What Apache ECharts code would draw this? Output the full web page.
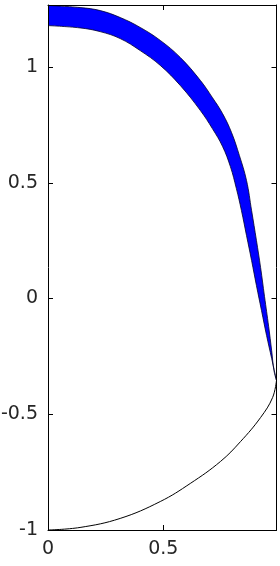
<!DOCTYPE html>
<html><head><meta charset="utf-8">
<script src="https://cdn.jsdelivr.net/npm/echarts@6/dist/echarts.min.js"></script>
<style>html,body{margin:0;padding:0;background:#fff}#c{width:280px;height:566px}</style>
</head><body><div id="c"></div>
<script>
// Outer edge of blue band
const outerX = [0, 0.139, 0.226, 0.313, 0.400, 0.487, 0.574, 0.661, 0.713, 0.757, 0.796, 0.830, 0.861, 0.883, 0.904, 0.922, 0.939, 0.957, 0.970, 0.980, 0.991];
const outerY = [1.266, 1.257, 1.244, 1.214, 1.171, 1.115, 1.041, 0.942, 0.868, 0.799, 0.717, 0.618, 0.510, 0.380, 0.251, 0.134, 0.009, -0.121, -0.225, -0.311, -0.354];
// Inner edge of blue band
const innerX = [0, 0.139, 0.226, 0.313, 0.400, 0.487, 0.574, 0.661, 0.713, 0.757, 0.791, 0.817, 0.839, 0.861, 0.883, 0.904, 0.926, 0.948, 0.970, 0.991];
const innerY = [1.179, 1.169, 1.153, 1.123, 1.071, 1.007, 0.920, 0.812, 0.734, 0.657, 0.570, 0.475, 0.380, 0.272, 0.164, 0.056, -0.052, -0.160, -0.259, -0.354];
// Lower black curve
const lowerX = [0, 0.139, 0.313, 0.487, 0.617, 0.748, 0.835, 0.922, 0.974, 0.991];
const lowerY = [-1.0, -0.989, -0.950, -0.877, -0.799, -0.704, -0.618, -0.514, -0.428, -0.354];
// Ticks
const xTicks = [0, 0.5];
const yTicks = [-1, -0.5, 0, 0.5, 1];
const xMin = 0, xMax = 0.991, yMin = -1, yMax = 1.268;

const txt = '#262626';
const fontFamily = 'DejaVu Sans';
function axisX(pos, showLabel) {
  return {
    type: 'value', position: pos, min: xMin, max: xMax, z: 10,
    axisLine: { show: true, onZero: false, lineStyle: { color: '#000', width: 1 } },
    axisTick: { show: true, inside: true, length: 5, customValues: xTicks, lineStyle: { color: '#000', width: 1 } },
    axisLabel: { show: showLabel, customValues: xTicks, color: txt, fontSize: 19, fontFamily, margin: 10,
      formatter: v => String(v) },
    splitLine: { show: false }
  };
}
function axisY(pos, showLabel) {
  return {
    type: 'value', position: pos, min: yMin, max: yMax, z: 10,
    axisLine: { show: true, onZero: false, lineStyle: { color: '#000', width: 1 } },
    axisTick: { show: true, inside: true, length: 5, customValues: yTicks, lineStyle: { color: '#000', width: 1 } },
    axisLabel: { show: showLabel, customValues: yTicks, color: txt, fontSize: 19, fontFamily, margin: 10,
      formatter: v => String(v) },
    splitLine: { show: false }
  };
}
const pairs = (xs, ys) => xs.map((x, i) => [x, ys[i]]);
const chart = echarts.init(document.getElementById('c'), null, { renderer: 'canvas' });
chart.setOption({
  animation: false,
  backgroundColor: '#fff',
  grid: { left: 48, right: 3.5, top: 5, bottom: 36, containLabel: false, outerBoundsMode: 'none' },
  xAxis: [axisX('bottom', true), axisX('top', false)],
  yAxis: [axisY('left', true), axisY('right', false)],
  series: [
    {
      type: 'line', showSymbol: false, smooth: 0.4,
      data: pairs(outerX, outerY),
      lineStyle: { color: '#00002a', width: 0.8 },
      areaStyle: { color: '#0000ff', opacity: 1, origin: 'start' }
    },
    {
      type: 'line', showSymbol: false, smooth: 0.4,
      data: pairs(innerX, innerY),
      lineStyle: { color: '#00002a', width: 0.8 },
      areaStyle: { color: '#ffffff', opacity: 1, origin: 'start' }
    },
    {
      type: 'line', showSymbol: false, smooth: 0.4,
      data: pairs(lowerX, lowerY),
      lineStyle: { color: '#000', width: 1 }
    }
  ]
});
</script></body></html>
